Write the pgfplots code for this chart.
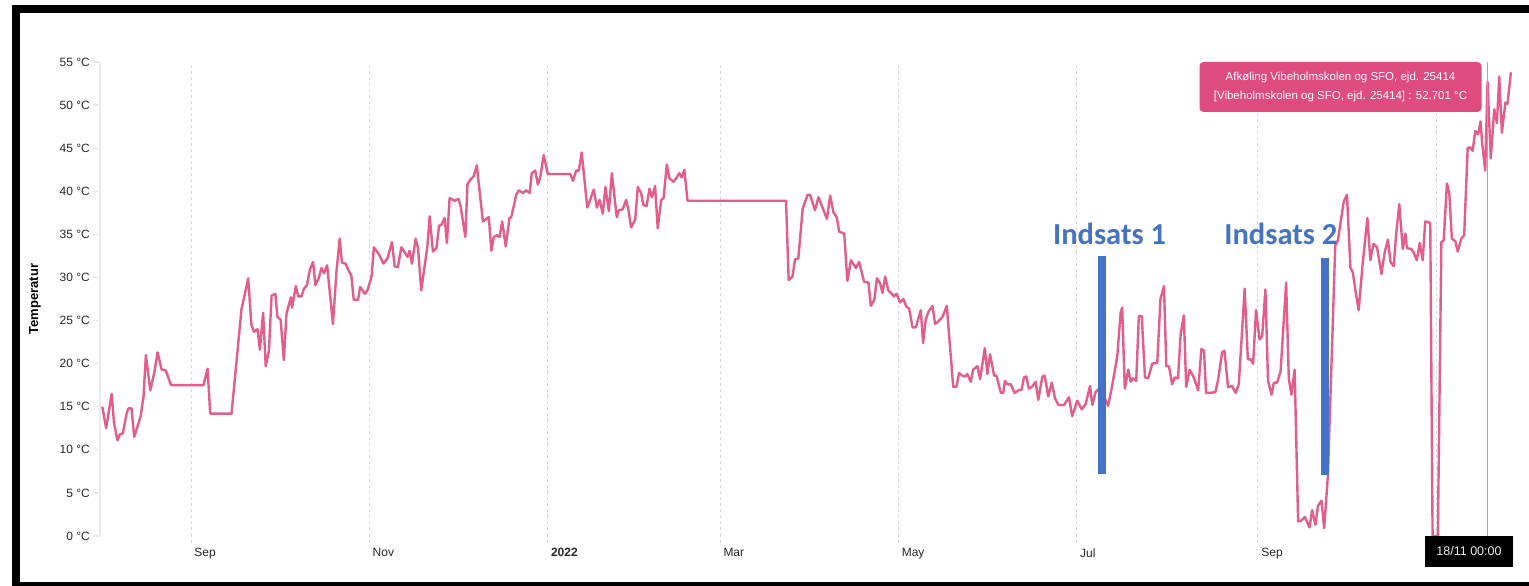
\documentclass[border=0pt]{standalone}
\usepackage{pgfplots}
\pgfplotsset{compat=1.18}
\usepackage{fontspec}
\setmainfont{Liberation Sans}
\newfontfamily\carlito{Carlito}
\definecolor{linecol}{RGB}{226,92,140}
\definecolor{tipcol}{RGB}{222,75,127}
\definecolor{barblue}{RGB}{68,114,196}
\begin{document}
\begin{tikzpicture}[x=1pt,y=1pt]
\path[use as bounding box] (0,0) rectangle (1529,586);
\begin{axis}[
  at={(100pt,50pt)}, anchor=south west,
  width=1415pt, height=474pt, scale only axis,
  xmin=-31.1, xmax=453, ymin=0, ymax=55,
  axis x line=bottom, axis y line=left,
  x axis line style={draw=none},
  y axis line style={draw=gray!15, line width=1.5pt, -},
  tick align=outside, major tick length=7pt,
  xtick={0,61,122,181,242,303,365,426},
  xticklabels={Sep,Nov,\textbf{2022},Mar,May,Jul,Sep,{}},
  ytick={0,5,...,55},
  yticklabels={0 °C,5 °C,10 °C,15 °C,20 °C,25 °C,30 °C,35 °C,40 °C,45 °C,50 °C,55 °C},
  xtick style={draw=gray!35, dash pattern=on 3pt off 3pt, line width=0.8pt},
  ytick style={draw=gray!18, line width=1.2pt},
  xmajorgrids,
  major grid style={draw=gray!30, dash pattern=on 3pt off 3pt, line width=0.8pt},
  xticklabel style={font=\fontsize{12}{14}\selectfont, text=black!85, anchor=north west, xshift=0pt, yshift=-2pt},
  yticklabel style={font=\fontsize{12}{14}\selectfont, text=black!85, inner sep=3pt},
  ylabel={\textbf{Temperatur}},
  every axis y label/.style={at={(axis description cs:-0.0459,0.5)}, rotate=90, anchor=center, font=\fontsize{13}{15}\selectfont},
  clip=true,
]
\addplot[linecol, line width=2.4pt, line join=round, mark=none] coordinates {
(-30.3,15.0) (-29.0,12.5) (-27.1,16.5) (-26.3,13.1) (-25.1,11.1) (-24.3,11.8) (-23.3,11.9) (-22.0,14.2) (-21.4,14.8) (-20.3,14.8) (-19.4,11.5) (-18.2,12.8) (-17.2,13.9) (-16.2,16.2) (-15.4,21.0) (-13.9,16.9) (-12.5,19.0) (-11.4,21.3) (-10.0,19.3) (-8.6,19.2) (-6.8,17.5) (4.3,17.5) (5.7,19.4) (6.6,14.2) (13.9,14.2) (17.3,26.3) (19.6,29.9) (20.7,24.5) (21.6,23.7) (22.8,24.0) (23.6,21.6) (24.7,25.9) (25.6,19.7) (26.7,21.5) (27.6,27.9) (28.9,28.1) (29.6,25.4) (30.7,25.1) (31.8,20.4) (32.7,25.8) (34.2,27.7) (34.6,26.5) (35.9,29.0) (36.7,27.8) (37.8,27.8) (38.7,28.7) (39.7,29.1) (40.7,30.9) (41.8,31.8) (42.6,29.1) (43.7,29.9) (44.7,31.1) (45.5,30.5) (46.6,31.4) (48.6,24.6) (49.8,30.7) (50.9,34.5) (51.7,31.7) (52.9,31.6) (53.8,30.9) (54.9,30.2) (55.7,27.4) (57.2,27.4) (57.9,28.9) (59.5,28.1) (60.4,28.5) (61.8,30.1) (62.6,33.5) (64.3,32.7) (65.9,31.6) (67.2,32.2) (68.8,34.1) (69.7,31.3) (70.8,31.2) (72.0,33.5) (74.1,32.4) (74.8,33.1) (75.6,31.6) (76.9,34.5) (77.7,33.4) (78.8,28.5) (80.9,33.6) (81.7,37.1) (82.8,33.0) (84.0,33.4) (84.9,36.0) (85.7,36.1) (86.8,36.9) (87.6,34.0) (88.5,39.2) (90.2,38.9) (91.6,39.1) (92.3,38.2) (93.9,34.7) (94.6,40.8) (95.7,41.4) (96.7,41.7) (97.8,43.0) (99.9,36.5) (101.9,37.0) (102.8,33.1) (103.6,34.7) (104.7,34.9) (105.6,34.7) (106.5,36.5) (107.7,33.6) (109.0,36.9) (109.6,37.0) (111.3,39.6) (112.2,40.1) (113.6,39.8) (114.7,40.1) (115.9,39.8) (116.6,42.1) (117.8,42.4) (118.7,40.8) (119.5,41.6) (120.7,44.2) (122.1,42.0) (129.8,42.0) (130.7,41.2) (131.8,42.4) (132.7,42.4) (133.7,44.5) (135.6,38.1) (136.6,39.0) (137.8,40.2) (138.9,38.1) (139.8,39.0) (140.9,37.4) (141.8,40.5) (143.0,37.7) (144.0,42.1) (145.7,37.0) (146.4,37.8) (147.7,37.9) (148.9,39.0) (149.7,37.8) (150.6,35.8) (152.0,36.7) (152.9,40.5) (154.0,39.8) (154.8,38.4) (155.9,38.3) (156.9,40.3) (157.7,39.3) (158.8,40.6) (159.7,35.7) (160.9,39.0) (161.7,39.2) (162.8,43.1) (163.7,41.5) (165.1,41.1) (166.2,41.6) (167.1,42.1) (167.9,41.6) (168.8,42.5) (169.9,38.9) (203.6,38.9) (204.5,29.7) (205.8,30.1) (206.7,32.1) (207.8,32.2) (209.3,38.0) (211.0,39.6) (211.8,39.6) (213.5,37.8) (214.7,39.3) (217.6,36.8) (218.7,39.5) (219.8,37.6) (220.9,37.0) (221.8,35.3) (223.5,35.1) (224.6,29.6) (225.8,32.0) (227.5,31.1) (228.6,31.8) (230.3,29.5) (231.8,29.4) (232.6,26.7) (233.8,27.4) (234.7,29.9) (235.8,29.3) (236.6,28.2) (237.5,30.1) (238.6,28.5) (240.6,27.8) (241.4,28.1) (242.6,27.1) (243.7,27.5) (244.8,26.6) (245.7,26.4) (246.9,24.2) (248.0,24.2) (249.7,26.2) (250.5,22.4) (251.4,25.1) (252.3,26.0) (253.7,26.7) (254.6,24.6) (255.7,24.9) (257.1,25.4) (258.6,26.7) (260.8,17.3) (261.9,17.3) (262.8,18.9) (263.9,18.6) (264.9,18.5) (265.6,18.8) (266.8,17.9) (267.6,19.3) (269.1,19.7) (270.0,18.2) (271.6,21.8) (272.5,18.8) (273.4,21.1) (274.8,18.6) (275.6,18.6) (277.1,16.6) (277.9,16.6) (278.5,18.0) (279.3,17.6) (280.5,17.6) (281.8,16.6) (283.1,16.9) (284.2,17.0) (285.0,18.4) (285.8,18.5) (286.7,17.1) (287.7,17.3) (289.0,17.9) (289.9,15.8) (291.3,18.5) (292.1,18.6) (293.3,16.2) (294.5,17.8) (295.6,16.0) (296.8,15.2) (298.7,15.2) (300.4,16.1) (301.5,13.9) (303.2,15.7) (304.8,14.7) (306.1,15.3) (307.6,17.4) (308.4,15.2) (309.5,16.7) (311.0,17.2) (313.8,15.1) (315.2,17.5) (316.9,20.8) (318.1,26.0) (318.6,26.5) (319.5,17.1) (320.7,19.3) (321.5,17.9) (322.3,18.3) (323.4,18.0) (324.3,25.5) (325.3,25.5) (326.4,18.4) (327.5,18.3) (328.9,20.0) (330.6,20.1) (331.7,27.5) (332.9,29.0) (333.7,19.7) (334.6,19.7) (335.7,17.6) (336.6,18.4) (337.7,18.3) (338.6,23.4) (339.7,25.6) (340.5,17.3) (341.7,19.3) (343.1,18.4) (344.6,16.9) (345.7,21.7) (346.6,21.5) (347.3,16.6) (348.8,16.6) (350.5,16.7) (351.4,18.1) (352.8,21.3) (353.6,21.5) (354.8,17.3) (356.2,17.4) (357.4,16.6) (358.5,17.6) (360.5,28.7) (361.6,20.5) (362.5,20.5) (363.4,20.0) (364.4,26.2) (365.6,22.8) (366.5,23.2) (367.6,28.6) (368.5,18.0) (369.7,16.4) (370.5,17.8) (371.6,17.8) (372.8,19.1) (374.7,29.4) (375.6,18.3) (376.5,16.4) (377.6,19.3) (378.8,1.7) (379.9,1.8) (381.1,2.2) (382.7,1.0) (383.6,3.0) (384.7,1.3) (385.6,3.5) (386.8,4.1) (387.7,0.9) (389.0,7.1) (391.5,33.7) (392.4,34.3) (394.4,38.8) (395.5,39.6) (396.7,31.1) (397.5,30.6) (398.4,28.5) (399.5,26.2) (400.9,31.7) (402.5,36.9) (403.5,32.0) (404.6,33.9) (405.8,33.5) (407.3,30.4) (408.4,32.9) (409.5,34.4) (410.4,31.8) (411.5,31.3) (412.3,34.9) (413.4,38.5) (414.6,33.3) (415.5,35.1) (416.0,33.4) (417.5,33.3) (418.3,32.9) (419.4,32.0) (420.4,34.0) (421.4,32.0) (422.3,36.5) (423.4,36.4) (424.0,36.3) (424.8,0) (426.6,0) (427.8,34.1) (428.6,34.3) (429.7,40.9) (430.5,39.8) (431.4,34.5) (432.6,34.2) (433.4,33.0) (434.6,34.5) (435.6,34.9) (436.8,45.0) (437.7,45.1) (438.5,44.7) (439.4,47.0) (440.4,46.6) (441.2,48.1) (441.8,45.4) (442.8,42.4) (443.6,52.7) (444.7,43.8) (445.9,49.5) (446.8,47.9) (447.6,53.3) (448.5,46.8) (449.7,50.3) (450.4,50.1) (451.6,53.8)
};
\draw[gray!70, line width=1.3pt] (axis cs:443.6,0) -- (axis cs:443.6,55);
\fill[barblue] (axis cs:310.3,7.2) rectangle (axis cs:312.9,32.5);
\fill[barblue] (axis cs:386.6,7.1) rectangle (axis cs:389.3,32.3);
\node[anchor=base, text=barblue, inner sep=0pt, font=\carlito\bfseries\fontsize{30.5}{36}\selectfont] at (axis cs:314.3,33.8) {Indsats 1};
\node[anchor=base, text=barblue, inner sep=0pt, font=\carlito\bfseries\fontsize{30.5}{36}\selectfont] at (axis cs:372.9,33.8) {Indsats 2};
\end{axis}
\node[fill=tipcol, rounded corners=4pt, minimum width=282pt, minimum height=50pt, text=white, align=center, inner sep=0pt, font=\fontsize{11.5}{19}\selectfont] at (1340.5,499) {Afkøling Vibeholmskolen og SFO, ejd. 25414\\{}[Vibeholmskolen og SFO, ejd. 25414] : 52.701 °C};
\node[fill=black, minimum width=88pt, minimum height=31pt, text=gray!15, inner sep=0pt, font=\fontsize{12.5}{14}\selectfont] at (1469,34.5) {18/11 00:00};
\fill[black] (12,573) rectangle (1529,581);
\fill[black] (12,0) rectangle (20,581);
\fill[black] (12,0) rectangle (1529,4);
\end{tikzpicture}
\end{document}
